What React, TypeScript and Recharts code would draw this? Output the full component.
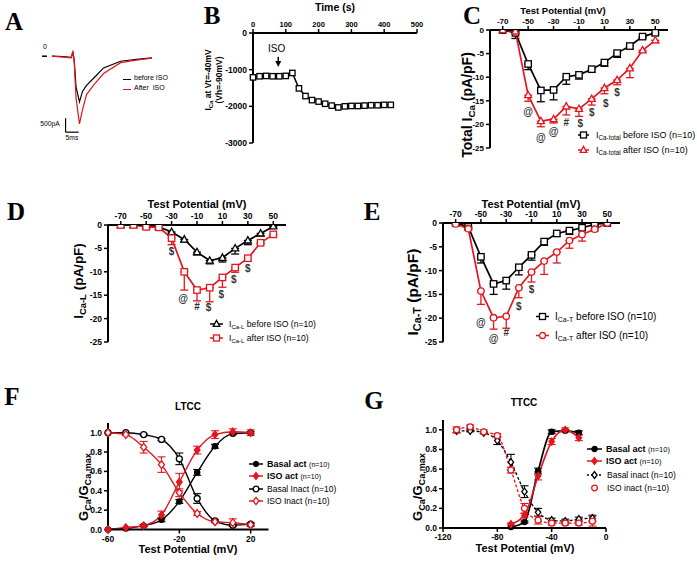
import React from 'react';
import { LineChart, Line, XAxis, YAxis, ErrorBar, ReferenceLine, ReferenceDot } from 'recharts';

const RED = '#e3161e';
const FONT = '"Liberation Sans", Arial, sans-serif';

// ---------- A: raw traces (ms, pA)
const aTime = [3.8, 8, 11.2, 11.8, 12.3, 13, 14.3, 15.5, 17, 20, 23.5, 30, 36, 42];
const aBefore = [0, -10, -40, 150, -150, -1100, -1630, -1250, -1040, -760, -420, -180, -110, -60];
const aAfter = [0, -30, -60, 200, -200, -1500, -2420, -1900, -1370, -1000, -620, -230, -140, -70];

// ---------- B: time course at Vt=-40mV
const bTime = [0, 20, 40, 60, 80, 100, 120, 140, 160, 180, 200, 220, 240, 260, 280, 300, 320, 340, 360, 380, 400, 420];
const bCurrent = [-1210, -1180, -1170, -1180, -1180, -1170, -1090, -1510, -1720, -1830, -1870, -1930, -1980, -2030, -2000, -1990, -1990, -1980, -1970, -1970, -1960, -1960];
const bTicksX = [0, 100, 200, 300, 400, 500];
const bTicksY = [-3000, -2000, -1000, 0];

// ---------- C / D / E: I-V curves
const ivV = [-70, -60, -50, -40, -30, -20, -10, 0, 10, 20, 30, 40, 50];
const ivTicksX = [-70, -50, -30, -10, 10, 30, 50];
const ivTicksY = [-25, -20, -15, -10, -5, 0];

const cBefore = [0, -0.6, -7.2, -12.8, -12.7, -9.9, -9.5, -8.3, -6.9, -4.9, -3.4, -1.4, -0.6];
const cBeforeErr = [0, 1.2, 1.2, 2.4, 2.1, 1.6, 0.9, 0.6, 0.8, 0.9, 0.6, 0.3, 0.4];
const cAfter = [0, -0.3, -13.8, -19.3, -18.9, -16.2, -16.7, -14.6, -12.3, -10.6, -8.1, -4.3, -2.2];
const cAfterErr = [0, 0.3, 1.3, 1.2, 0.8, 1.8, 1.6, 1.3, 1.2, 1.0, 2.0, 0.3, 0.5];
const cMarks = [
  { v: -50, y: -17.2, s: '@' }, { v: -40, y: -22.7, s: '@' }, { v: -30, y: -21.6, s: '@' },
  { v: -20, y: -19.6, s: '#' }, { v: -9, y: -19.9, s: '$' }, { v: 0, y: -17.4, s: '$' },
  { v: 11, y: -15.5, s: '$' }, { v: 20, y: -13.3, s: '$' },
];

const dBefore = [0, 0, -0.2, -0.4, -1.5, -3.1, -5.8, -7.6, -7.0, -5.0, -3.3, -1.8, -0.3];
const dBeforeErr = [0, 0, 0.1, 0.2, 0.5, 0.5, 0.6, 0.7, 0.9, 1.2, 0.9, 0.5, 0.3];
const dAfter = [0, 0, -0.4, -0.5, -2.8, -10.0, -13.9, -13.4, -11.2, -9.1, -7.1, -3.8, -2.0];
const dAfterErr = [0, 0, 0.2, 0.2, 1.4, 3.9, 2.3, 3.0, 2.1, 1.0, 0.6, 0.3, 0.2];
const dMarks = [
  { v: -30, y: -5.7, s: '$' }, { v: -21, y: -15.8, s: '@' }, { v: -10, y: -17.4, s: '#' },
  { v: -1, y: -17.7, s: '$' }, { v: 9, y: -14.9, s: '$' }, { v: 19, y: -11.7, s: '$' },
  { v: 30, y: -9.2, s: '$' },
];

const eBefore = [0, -0.8, -7.1, -12.8, -12.1, -9.3, -6.7, -3.9, -2.2, -1.6, -1.0, -0.3, 0];
const eBeforeErr = [0, 0.3, 1.3, 2.2, 1.8, 1.6, 1.1, 0.8, 0.6, 0.8, 0.3, 0.2, 0];
const eAfter = [-0.2, -1.2, -14.3, -19.9, -19.6, -13.6, -10.3, -8.0, -6.1, -3.7, -2.4, -1.3, 0];
const eAfterErr = [0, 0.3, 2.8, 2.4, 2.5, 2.1, 2.1, 2.8, 2.3, 1.6, 1.4, 0.4, 0];
const eMarks = [
  { v: -50, y: -20.9, s: '@' }, { v: -40, y: -24.2, s: '@' }, { v: -30, y: -23.1, s: '#' },
  { v: -20, y: -17.6, s: '$' }, { v: -10, y: -13.9, s: '$' },
];

// ---------- F: LTCC activation / inactivation
const fV = [-60, -50, -40, -30, -20, -10, 0, 10, 20];
const fBasalAct = [0, 0.01, 0.04, 0.10, 0.29, 0.59, 0.86, 0.99, 1.0];
const fBasalActErr = [0, 0, 0.01, 0.02, 0.02, 0.03, 0.02, 0.01, 0.01];
const fIsoAct = [0, 0.02, 0.04, 0.15, 0.49, 0.82, 0.98, 1.01, 1.0];
const fIsoActErr = [0, 0, 0.01, 0.04, 0.09, 0.04, 0.04, 0.03, 0.03];
const fBasalInact = [1.0, 1.0, 0.98, 0.93, 0.73, 0.32, 0.09, 0.045, 0.055];
const fBasalInactErr = [0, 0, 0.01, 0.01, 0.06, 0.05, 0.01, 0.01, 0.01];
const fIsoInact = [1.0, 0.98, 0.85, 0.67, 0.38, 0.165, 0.08, 0.07, 0.05];
const fIsoInactErr = [0, 0.01, 0.06, 0.08, 0.04, 0.02, 0.01, 0.04, 0.02];

// ---------- G: TTCC activation / inactivation
const gInactV = [-110, -100, -90, -80, -70, -60, -50, -40, -30, -20, -10];
const gBasalInact = [0.99, 0.99, 0.97, 0.89, 0.67, 0.37, 0.16, 0.08, 0.07, 0.09, 0.10];
const gBasalInactErr = [0.02, 0.01, 0.01, 0.04, 0.08, 0.06, 0.04, 0.02, 0.02, 0.02, 0.03];
const gIsoInact = [1.0, 1.03, 0.98, 0.94, 0.59, 0.20, 0.08, 0.05, 0.05, 0.05, 0.07];
const gIsoInactErr = [0.03, 0.02, 0.02, 0.02, 0.03, 0.05, 0.04, 0.02, 0.02, 0.02, 0.05];
const gActV = [-70, -60, -50, -40, -30, -20];
const gBasalAct = [0.01, 0.06, 0.58, 0.98, 0.99, 0.97];
const gBasalActErr = [0, 0.01, 0.03, 0.02, 0.01, 0.02];
const gIsoAct = [0.04, 0.13, 0.53, 0.88, 1.0, 0.92];
const gIsoActErr = [0.01, 0.02, 0.04, 0.03, 0.02, 0.03];
const gTicksX = [-120, -80, -40, 0];
const fTicksX = [-60, -20, 20];
const gfTicksY = [0, 0.2, 0.4, 0.6, 0.8, 1.0];

const rows = (xs: number[], ys: number[], es?: number[], down = false) =>
  xs.map((v, i) => ({ v, y: ys[i], e: es ? (down ? [es[i], 0] : es[i]) : 0 }));

function Mark({ cx, cy, shape, color, filled, s }: any) {
  const fill = filled ? color : '#fff';
  const p = { fill, stroke: color, strokeWidth: 1.3 };
  if (shape === 'square') return <rect x={cx - s} y={cy - s} width={2 * s} height={2 * s} {...p} />;
  if (shape === 'triangle')
    return <path d={`M${cx},${cy - s * 1.2}L${cx + s * 1.1},${cy + s * 0.8}L${cx - s * 1.1},${cy + s * 0.8}Z`} {...p} />;
  if (shape === 'diamond')
    return <path d={`M${cx},${cy - s * 1.3}L${cx + s},${cy}L${cx},${cy + s * 1.3}L${cx - s},${cy}Z`} {...p} />;
  return <circle cx={cx} cy={cy} r={s} {...p} />;
}

const dotOf = (shape: string, color: string, filled: boolean, s: number) => (p: any) =>
  p.cx == null ? <g key={`n${p.index}`} /> : <Mark key={`m${p.index}`} cx={p.cx} cy={p.cy} shape={shape} color={color} filled={filled} s={s} />;

const tickFont = (size: number) => ({ fontSize: size, fontWeight: 700, fill: '#000', fontFamily: FONT });
const axisLine = { stroke: '#000', strokeWidth: 2 };
const tickLine = { stroke: '#000', strokeWidth: 1.5 };

function Box({ x0, x1, y0, y1, top, children }: any) {
  const padL = 40, padR = 14, padT = 26, padB = 26;
  const w = x1 - x0 + padL + padR;
  const h = y1 - y0 + padT + padB;
  const margin = top
    ? { left: padL - 34, right: padR, top: padT - 20, bottom: padB }
    : { left: padL - 34, right: padR, top: padT, bottom: padB - 20 };
  return (
    <div style={{ position: 'absolute', left: x0 - padL, top: y0 - padT }}>
      <LineChart width={w} height={h} margin={margin}>
        {children}
      </LineChart>
    </div>
  );
}

function Txt({ x, y, size = 10, bold = true, rotate = false, family = FONT, color = '#000', lh = 1.05, children }: any) {
  return (
    <div
      style={{
        position: 'absolute', left: x, top: y, whiteSpace: 'nowrap', fontFamily: family,
        fontSize: size, fontWeight: bold ? 700 : 400, color, lineHeight: lh, textAlign: 'center',
        transform: `translate(-50%, -50%)${rotate ? ' rotate(-90deg)' : ''}`,
      }}
    >
      {children}
    </div>
  );
}

const Sub = ({ children }: any) => (
  <span style={{ fontSize: '0.7em', position: 'relative', top: '0.3em' }}>{children}</span>
);

function Key({ x, y, len, gap, color, shape, filled, s = 3, dash, line = true, size, children }: any) {
  return (
    <div
      style={{
        position: 'absolute', left: x, top: y, transform: 'translateY(-50%)', display: 'flex',
        alignItems: 'center', whiteSpace: 'nowrap', fontFamily: FONT, fontSize: size, color: '#000',
      }}
    >
      <svg width={len} height={10} style={{ marginRight: gap, overflow: 'visible' }}>
        {line && <line x1={0} y1={5} x2={len} y2={5} stroke={color} strokeWidth={1.5} strokeDasharray={dash} />}
        <Mark cx={len / 2} cy={5} shape={shape} color={color} filled={filled} s={s} />
      </svg>
      <span>{children}</span>
    </div>
  );
}

const Letter = ({ x, y, children }: any) => (
  <Txt x={x} y={y} size={25} family='"Liberation Serif", "Times New Roman", serif'>{children}</Txt>
);

const annot = (list: { v: number; y: number; s: string }[]) =>
  list.map((m, i) => (
    <ReferenceDot
      key={`a${i}`}
      x={m.v}
      y={m.y}
      r={0}
      shape={(p: any) => (
        <text x={p.cx} y={p.cy} textAnchor="middle" dominantBaseline="central" fontSize={10} fontWeight={700} fontFamily={FONT} fill="#333">
          {m.s}
        </text>
      )}
    />
  ));

function IVPanel({ frame, before, after, marks, tickSize }: any) {
  return (
    <Box {...frame} top>
      <XAxis type="number" dataKey="v" orientation="top" domain={[-80, 60]} ticks={ivTicksX} interval={0} height={20}
        axisLine={axisLine} tickLine={tickLine} tickSize={4} tick={tickFont(tickSize)} allowDataOverflow />
      <YAxis type="number" domain={[-25, 0]} ticks={ivTicksY} interval={0} width={34}
        axisLine={axisLine} tickLine={tickLine} tickSize={4} tick={tickFont(tickSize)} allowDataOverflow />
      <Line data={before.data} dataKey="y" stroke="#000" strokeWidth={1.7} isAnimationActive={false}
        dot={dotOf(before.shape, '#000', false, 3.2)} activeDot={false}>
        <ErrorBar dataKey="e" direction="y" width={4} stroke="#000" strokeWidth={1.3} />
      </Line>
      <Line data={after.data} dataKey="y" stroke={RED} strokeWidth={1.7} isAnimationActive={false}
        dot={dotOf(after.shape, RED, false, 3.2)} activeDot={false}>
        <ErrorBar dataKey="e" direction="y" width={4} stroke={RED} strokeWidth={1.3} />
      </Line>
      {annot(marks)}
    </Box>
  );
}

export default function App() {
  const aData = aTime.map((t, i) => ({ t, b: aBefore[i], r: aAfter[i] }));
  const bData = rows(bTime, bCurrent);
  const fData = fV.map((v, i) => ({
    v, ba: fBasalAct[i], bae: fBasalActErr[i], ia: fIsoAct[i], iae: fIsoActErr[i],
    bi: fBasalInact[i], bie: fBasalInactErr[i], ii: fIsoInact[i], iie: fIsoInactErr[i],
  }));

  return (
    <div style={{ position: 'absolute', left: 0, top: 0, width: 697, height: 561, background: '#fff', overflow: 'hidden', fontFamily: FONT }}>
      {/* A */}
      <Letter x={14} y={22}>A</Letter>
      <div style={{ position: 'absolute', left: 42, top: 44.8 }}>
        <LineChart width={110} height={92.4} margin={{ top: 0, left: 0, right: 0, bottom: 0 }} data={aData}>
          <XAxis type="number" dataKey="t" domain={[0, 42]} hide />
          <YAxis type="number" domain={[-2900, 400]} hide />
          <ReferenceLine segment={[{ x: 0, y: 0 }, { x: 1.9, y: 0 }]} stroke="#000" strokeWidth={1.5} />
          <ReferenceLine segment={[{ x: 9, y: -2214 }, { x: 9, y: -2714 }]} stroke="#000" strokeWidth={1.2} />
          <ReferenceLine segment={[{ x: 9, y: -2714 }, { x: 14, y: -2714 }]} stroke="#000" strokeWidth={1.2} />
          <Line dataKey="b" stroke="#000" strokeWidth={1.2} dot={false} activeDot={false} isAnimationActive={false} />
          <Line dataKey="r" stroke={RED} strokeWidth={1.2} dot={false} activeDot={false} isAnimationActive={false} />
        </LineChart>
      </div>
      <Txt x={45} y={47} size={7} bold={false}>0</Txt>
      <Txt x={50} y={124} size={6.8} bold={false}>500pA</Txt>
      <Txt x={72} y={138} size={6.8} bold={false}>5ms</Txt>
      <div style={{ position: 'absolute', left: 123, top: 79, width: 8, height: 1.3, background: '#000' }} />
      <div style={{ position: 'absolute', left: 123, top: 89, width: 8, height: 1.3, background: RED }} />
      <div style={{ position: 'absolute', left: 134, top: 74, fontSize: 7, fontFamily: FONT, whiteSpace: 'nowrap' }}>before ISO</div>
      <div style={{ position: 'absolute', left: 134, top: 84, fontSize: 7, fontFamily: FONT, whiteSpace: 'pre' }}>After  ISO</div>

      {/* B */}
      <Letter x={212} y={16}>B</Letter>
      <Txt x={335} y={8} size={10.5}>Time (s)</Txt>
      <Txt x={214} y={80} size={8.5} lh={1.3} rotate>
        I<Sub>Ca</Sub> at Vt=-40mV
        <br />
        (Vh=-90mV)
      </Txt>
      <Box x0={253} x1={417} y0={33} y1={143} top>
        <XAxis type="number" dataKey="v" orientation="top" domain={[0, 500]} ticks={bTicksX} interval={0} height={20}
          axisLine={axisLine} tickLine={tickLine} tickSize={4} tick={tickFont(7.5)} />
        <YAxis type="number" domain={[-3000, 0]} ticks={bTicksY} interval={0} width={34}
          axisLine={axisLine} tickLine={tickLine} tickSize={4} tick={tickFont(8.5)} />
        <Line data={bData} dataKey="y" stroke="#000" strokeWidth={1.5} isAnimationActive={false}
          dot={dotOf('square', '#000', false, 2.7)} activeDot={false} />
        <ReferenceDot x={72} y={-410} r={0} shape={(p: any) => (
          <text x={p.cx} y={p.cy} textAnchor="middle" dominantBaseline="central" fontSize={10} fontFamily={FONT}>ISO</text>
        )} />
        <ReferenceLine segment={[{ x: 77, y: -650 }, { x: 77, y: -880 }]} stroke="#000" strokeWidth={1.5} />
        <ReferenceDot x={77} y={-930} r={0} shape={(p: any) => (
          <path d={`M${p.cx},${p.cy}L${p.cx - 3},${p.cy - 6}L${p.cx + 3},${p.cy - 6}Z`} fill="#000" />
        )} />
      </Box>

      {/* C */}
      <Letter x={472} y={16}>C</Letter>
      <Txt x={563} y={11} size={9.5}>Test Potential (mV)</Txt>
      <Txt x={467} y={105} size={14} rotate>Total I<Sub>Ca</Sub> (pA/pF)</Txt>
      <IVPanel frame={{ x0: 490, x1: 668, y0: 30, y1: 148 }} tickSize={8}
        before={{ data: rows(ivV, cBefore, cBeforeErr, true), shape: 'square' }}
        after={{ data: rows(ivV, cAfter, cAfterErr, true), shape: 'triangle' }} marks={cMarks} />
      <Key x={578} y={135} len={11} gap={7} color="#000" shape="square" size={9}>I<Sub>Ca-total</Sub> before ISO (n=10)</Key>
      <Key x={578} y={150} len={11} gap={7} color={RED} shape="triangle" size={9}>I<Sub>Ca-total</Sub> after ISO (n=10)</Key>

      {/* D */}
      <Letter x={16} y={212}>D</Letter>
      <Txt x={197} y={205} size={11}>Test Potential (mV)</Txt>
      <Txt x={79} y={281} size={13.5} rotate>I<Sub>Ca-L</Sub> (pA/pF)</Txt>
      <IVPanel frame={{ x0: 108, x1: 286, y0: 225, y1: 342 }} tickSize={8.5}
        before={{ data: rows(ivV, dBefore, dBeforeErr, true), shape: 'triangle' }}
        after={{ data: rows(ivV, dAfter, dAfterErr, true), shape: 'square' }} marks={dMarks} />
      <Key x={210} y={324} len={13} gap={6} color="#000" shape="triangle" size={8.6}>I<Sub>Ca-L</Sub> before ISO (n=10)</Key>
      <Key x={210} y={338} len={13} gap={6} color={RED} shape="square" size={8.6}>I<Sub>Ca-L</Sub> after ISO (n=10)</Key>

      {/* E */}
      <Letter x={372} y={212}>E</Letter>
      <Txt x={531} y={205} size={11}>Test Potential (mV)</Txt>
      <Txt x={413} y={292} size={15.5} rotate>I<Sub>Ca-T</Sub> (pA/pF)</Txt>
      <IVPanel frame={{ x0: 443, x1: 620, y0: 223, y1: 342 }} tickSize={8.5}
        before={{ data: rows(ivV, eBefore, eBeforeErr, true), shape: 'square' }}
        after={{ data: rows(ivV, eAfter, eAfterErr, true), shape: 'circle' }} marks={eMarks} />
      <Key x={536} y={316} len={13} gap={6} color="#000" shape="square" size={10}>I<Sub>Ca-T</Sub> before ISO (n=10)</Key>
      <Key x={536} y={335} len={13} gap={6} color={RED} shape="circle" size={10}>I<Sub>Ca-T</Sub> after ISO (n=10)</Key>

      {/* F */}
      <Letter x={12} y={397}>F</Letter>
      <Txt x={188} y={407} size={10}>LTCC</Txt>
      <Txt x={84} y={487} size={13} rotate>G<Sub>Ca</Sub>/G<Sub>Ca,max</Sub></Txt>
      <Txt x={188} y={550} size={11}>Test Potential (mV)</Txt>
      <Box x0={107.5} x1={268} y0={423} y1={529.5}>
        <XAxis type="number" dataKey="v" domain={[-60, 30]} ticks={fTicksX} interval={0} height={20}
          axisLine={axisLine} tickLine={tickLine} tickSize={4} tick={tickFont(8.5)} />
        <YAxis type="number" domain={[0, 1.1]} ticks={gfTicksY} interval={0} width={34} tickFormatter={(t: number) => t.toFixed(1)}
          axisLine={axisLine} tickLine={tickLine} tickSize={4} tick={tickFont(8.5)} />
        <Line data={fData} type="monotone" dataKey="bi" stroke="#000" strokeWidth={1.4} isAnimationActive={false}
          dot={dotOf('circle', '#000', false, 3)} activeDot={false}>
          <ErrorBar dataKey="bie" direction="y" width={4} stroke="#000" strokeWidth={1.1} />
        </Line>
        <Line data={fData} type="monotone" dataKey="ba" stroke="#000" strokeWidth={1.4} isAnimationActive={false}
          dot={dotOf('circle', '#000', true, 2.6)} activeDot={false}>
          <ErrorBar dataKey="bae" direction="y" width={4} stroke="#000" strokeWidth={1.1} />
        </Line>
        <Line data={fData} type="monotone" dataKey="ii" stroke={RED} strokeWidth={1.4} isAnimationActive={false}
          dot={dotOf('diamond', RED, false, 3)} activeDot={false}>
          <ErrorBar dataKey="iie" direction="y" width={4} stroke={RED} strokeWidth={1.1} />
        </Line>
        <Line data={fData} type="monotone" dataKey="ia" stroke={RED} strokeWidth={1.4} isAnimationActive={false}
          dot={dotOf('diamond', RED, true, 2.8)} activeDot={false}>
          <ErrorBar dataKey="iae" direction="y" width={4} stroke={RED} strokeWidth={1.1} />
        </Line>
      </Box>
      <Key x={249} y={464} len={14} gap={4} color="#000" shape="circle" filled s={2.4} size={9}>
        <b>Basal act</b> <span style={{ fontSize: 7 }}>(n=10)</span>
      </Key>
      <Key x={249} y={476} len={14} gap={4} color={RED} shape="diamond" filled s={2.6} size={9}>
        <b>ISO act</b> <span style={{ fontSize: 7 }}>(n=10)</span>
      </Key>
      <Key x={249} y={488.5} len={14} gap={4} color="#000" shape="circle" s={2.8} size={8.5}>Basal Inact (n=10)</Key>
      <Key x={249} y={501} len={14} gap={4} color={RED} shape="diamond" s={2.8} size={8.5}>ISO Inact (n=10)</Key>

      {/* G */}
      <Letter x={374} y={401}>G</Letter>
      <Txt x={524} y={403} size={10}>TTCC</Txt>
      <Txt x={417.5} y={487} size={13} rotate>G<Sub>Ca</Sub>/G<Sub>Ca,max</Sub></Txt>
      <Txt x={525} y={549} size={11}>Test Potential (mV)</Txt>
      <Box x0={443} x1={606} y0={419.5} y1={527.5}>
        <XAxis type="number" dataKey="v" domain={[-120, 0]} ticks={gTicksX} interval={0} height={20}
          axisLine={axisLine} tickLine={tickLine} tickSize={4} tick={tickFont(8.5)} />
        <YAxis type="number" domain={[0, 1.1]} ticks={gfTicksY} interval={0} width={34} tickFormatter={(t: number) => t.toFixed(1)}
          axisLine={axisLine} tickLine={tickLine} tickSize={4} tick={tickFont(8.5)} />
        <Line data={rows(gInactV, gBasalInact, gBasalInactErr)} type="monotone" dataKey="y" stroke="#000" strokeWidth={1.3}
          strokeDasharray="3 2" isAnimationActive={false} dot={dotOf('diamond', '#000', false, 2.7)} activeDot={false}>
          <ErrorBar dataKey="e" direction="y" width={4} stroke="#000" strokeWidth={1.1} />
        </Line>
        <Line data={rows(gInactV, gIsoInact, gIsoInactErr)} type="monotone" dataKey="y" stroke={RED} strokeWidth={1.3}
          strokeDasharray="3 2" isAnimationActive={false} dot={dotOf('circle', RED, false, 3)} activeDot={false}>
          <ErrorBar dataKey="e" direction="y" width={4} stroke={RED} strokeWidth={1.1} />
        </Line>
        <Line data={rows(gActV, gBasalAct, gBasalActErr)} type="monotone" dataKey="y" stroke="#000" strokeWidth={1.7}
          isAnimationActive={false} dot={dotOf('circle', '#000', true, 2.6)} activeDot={false}>
          <ErrorBar dataKey="e" direction="y" width={4} stroke="#000" strokeWidth={1.1} />
        </Line>
        <Line data={rows(gActV, gIsoAct, gIsoActErr)} type="monotone" dataKey="y" stroke={RED} strokeWidth={1.7}
          isAnimationActive={false} dot={dotOf('diamond', RED, true, 2.7)} activeDot={false}>
          <ErrorBar dataKey="e" direction="y" width={4} stroke={RED} strokeWidth={1.1} />
        </Line>
      </Box>
      <Key x={587} y={448.5} len={15} gap={4} color="#000" shape="circle" filled s={2.5} size={9}>
        <b>Basal act</b> <span style={{ fontSize: 7.5 }}>(n=10)</span>
      </Key>
      <Key x={587} y={461} len={15} gap={4} color={RED} shape="diamond" filled s={2.6} size={9}>
        <b>ISO act</b> <span style={{ fontSize: 7.5 }}>(n=10)</span>
      </Key>
      <Key x={587} y={475} len={15} gap={5} color="#000" shape="diamond" s={2.6} dash="2 2" size={8.5}>Basal inact (n=10)</Key>
      <Key x={587} y={488} len={15} gap={5} color={RED} shape="circle" s={2.8} line={false} size={8.5}>ISO inact (n=10)</Key>
    </div>
  );
}
